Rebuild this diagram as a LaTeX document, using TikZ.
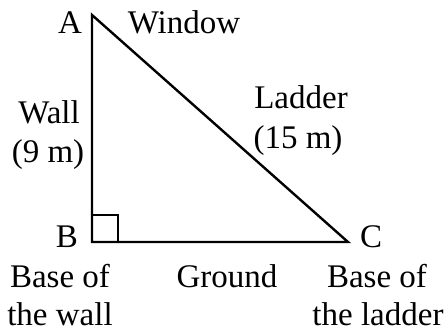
\documentclass[tikz,border=0pt]{standalone}
\usepackage{fontspec}
\setmainfont{Liberation Serif}
\begin{document}
\begin{tikzpicture}[x=1pt,y=-1pt,
  lbl/.style={anchor=base,inner sep=0pt,font=\fontsize{33}{39}\selectfont},
  edge/.style={line width=2.4pt,line join=miter}]
\useasboundingbox (0,0) rectangle (446,332);
\coordinate (A) at (92,15);
\coordinate (B) at (92,242);
\coordinate (C) at (348,242);
\draw[edge] (A) -- (B) -- (C) -- cycle;
\draw[line width=2pt] ([yshift=27pt]B) -| ([xshift=26pt]B);
\node[lbl] (la) at (70,33) {A};
\node[lbl] (lwin) at (184,33) {Window};
\node[lbl] (lwall) at (49,123) {Wall};
\node[lbl] (l9) at (48,162) {(9 m)};
\node[lbl] (llad) at (301,108) {Ladder};
\node[lbl] (l15) at (298,148) {(15 m)};
\node[lbl] (lb) at (67,247) {B};
\node[lbl] (lc) at (371,247) {C};
\node[lbl] (bw1) at (60,287) {Base of};
\node[lbl] (bw2) at (60,325) {the wall};
\node[lbl] (gr) at (227,287) {Ground};
\node[lbl] (bl1) at (377,287) {Base of};
\node[lbl] (bl2) at (378,325) {the ladder};
\end{tikzpicture}
\end{document}
